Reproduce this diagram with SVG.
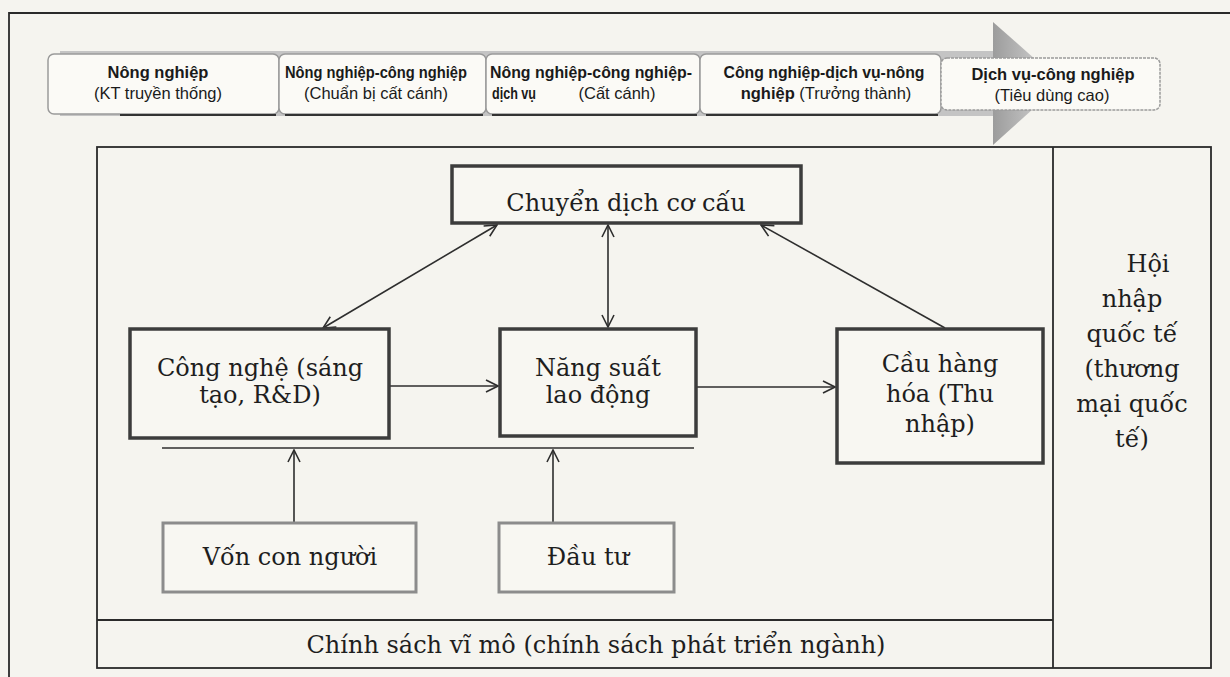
<svg xmlns="http://www.w3.org/2000/svg" width="1230" height="677" viewBox="0 0 1230 677">
<defs>
<style>
.serif{font-family:"DejaVu Serif","Liberation Serif",serif;font-size:24px;fill:#1e1e1e;text-anchor:middle}
.bb{font-family:"Liberation Sans",Arial,sans-serif;font-size:16.5px;font-weight:bold;fill:#1a1a1a;text-anchor:middle}
.br{font-family:"Liberation Sans",Arial,sans-serif;font-size:16.5px;fill:#1a1a1a;text-anchor:middle}
.frame{fill:none;stroke:#2a2a2a;stroke-width:1.8}
.node{fill:#f8f7f2;stroke:#3c3c3c;stroke-width:3.5}
.node2{fill:#f8f7f2;stroke:#8c8c8c;stroke-width:3}
.band{fill:#fbfaf6;stroke:#9a9a9a;stroke-width:1.5}
.conn{fill:none;stroke:#2e2e2e;stroke-width:1.6}
</style>
<marker id="ah" viewBox="0 0 14 14" refX="13" refY="7" markerWidth="14" markerHeight="14" markerUnits="userSpaceOnUse" orient="auto-start-reverse">
<path d="M1,1 L13,7 L1,13" fill="none" stroke="#2e2e2e" stroke-width="1.6"/>
</marker>
<linearGradient id="ag" x1="0" y1="0" x2="1" y2="0">
<stop offset="0" stop-color="#9c9c9c"/>
<stop offset="1" stop-color="#dedede"/>
</linearGradient>
</defs>
<rect width="1230" height="677" fill="#f5f4ef"/>
<!-- outer page frame -->
<path class="frame" d="M9,677 V13 H1230"/>
<!-- big stage arrow -->
<g id="stage-arrow">
<rect x="60" y="51" width="935" height="65" fill="#c4c4c4"/>
<polygon points="993,22 1062,83 993,145" fill="url(#ag)"/>
</g>
<g id="stage1"><rect class="band" x="48" y="54" width="231" height="60" rx="6" stroke="#cfcfcf"/><line x1="120" y1="115" x2="276" y2="115" stroke="#333" stroke-width="2"/>
<text class="bb" x="158" y="78">Nông nghiệp</text><text class="br" x="158" y="99">(KT truyền thống)</text></g>
<g id="stage2"><rect class="band" x="279" y="54" width="207" height="60" rx="6"/><line x1="285" y1="115" x2="483" y2="115" stroke="#333" stroke-width="2"/>
<text class="bb" x="376" y="78" textLength="182" lengthAdjust="spacingAndGlyphs">Nông nghiệp-công nghiệp</text><text class="br" x="376" y="99">(Chuẩn bị cất cánh)</text></g>
<g id="stage3"><rect class="band" x="486" y="54" width="214" height="60" rx="6"/><line x1="492" y1="115" x2="697" y2="115" stroke="#333" stroke-width="2"/>
<text class="bb" x="591" y="78" textLength="202" lengthAdjust="spacingAndGlyphs">Nông nghiệp-công nghiệp-</text><text class="bb" x="514" y="99" textLength="44" lengthAdjust="spacingAndGlyphs">dịch vụ</text><text class="br" x="617" y="99">(Cất cánh)</text></g>
<g id="stage4"><rect class="band" x="700" y="54" width="241" height="60" rx="6"/><line x1="706" y1="115" x2="938" y2="115" stroke="#333" stroke-width="2"/>
<text class="bb" x="824" y="78" textLength="201" lengthAdjust="spacingAndGlyphs">Công nghiệp-dịch vụ-nông</text><text class="br" x="826" y="99"><tspan font-weight="bold">nghiệp</tspan> (Trưởng thành)</text></g>
<g id="stage5"><rect class="band" x="941" y="58" width="219" height="52" rx="6" stroke="#bdbdbd" stroke-dasharray="3 1"/>
<text class="bb" x="1053" y="80">Dịch vụ-công nghiệp</text><text class="br" x="1052" y="101">(Tiêu dùng cao)</text></g>
<!-- main frame -->
<g id="main-frame">
<rect class="frame" x="97" y="147" width="1114" height="521"/>
<line class="frame" x1="1053" y1="147" x2="1053" y2="668"/>
<line class="frame" x1="97" y1="620" x2="1053" y2="620"/>
</g>
<g id="connectors">
<line class="conn" x1="323" y1="328" x2="497" y2="225" marker-start="url(#ah)" marker-end="url(#ah)"/>
<line class="conn" x1="608" y1="225" x2="608" y2="327" marker-start="url(#ah)" marker-end="url(#ah)"/>
<line class="conn" x1="945" y1="328" x2="761" y2="225" marker-end="url(#ah)"/>
<line class="conn" x1="390" y1="386" x2="498" y2="386" marker-end="url(#ah)"/>
<line class="conn" x1="697" y1="387" x2="835" y2="387" marker-end="url(#ah)"/>
<line class="conn" x1="162" y1="448" x2="694" y2="448"/>
<line class="conn" x1="294" y1="522" x2="294" y2="450" marker-end="url(#ah)"/>
<line class="conn" x1="553" y1="522" x2="553" y2="450" marker-end="url(#ah)"/>
</g>
<g id="chuyen-dich"><rect class="node" x="452" y="166" width="349" height="57"/><text class="serif" x="626" y="211">Chuyển dịch cơ cấu</text></g>
<g id="cong-nghe"><rect class="node" x="130" y="329" width="259" height="109"/><text class="serif" x="260" y="376">Công nghệ (sáng</text><text class="serif" x="260" y="403">tạo, R&amp;D)</text></g>
<g id="nang-suat"><rect class="node" x="500" y="329" width="196" height="107"/><text class="serif" x="598" y="376">Năng suất</text><text class="serif" x="598" y="403">lao động</text></g>
<g id="cau-hang-hoa"><rect class="node" x="837" y="329" width="206" height="134"/><text class="serif" x="940" y="372">Cầu hàng</text><text class="serif" x="940" y="402">hóa (Thu</text><text class="serif" x="940" y="432">nhập)</text></g>
<g id="von-con-nguoi"><rect class="node2" x="163" y="523" width="253" height="69"/><text class="serif" x="290" y="565">Vốn con người</text></g>
<g id="dau-tu"><rect class="node2" x="499" y="523" width="175" height="69"/><text class="serif" x="588" y="565">Đầu tư</text></g>
<g id="chinh-sach"><text class="serif" x="596" y="653">Chính sách vĩ mô (chính sách phát triển ngành)</text></g>
<g id="hoi-nhap">
<text class="serif" x="1148" y="272">Hội</text>
<text class="serif" x="1132" y="307">nhập</text>
<text class="serif" x="1132" y="342">quốc tế</text>
<text class="serif" x="1132" y="377">(thương</text>
<text class="serif" x="1132" y="412">mại quốc</text>
<text class="serif" x="1132" y="447">tế)</text>
</g>
</svg>
